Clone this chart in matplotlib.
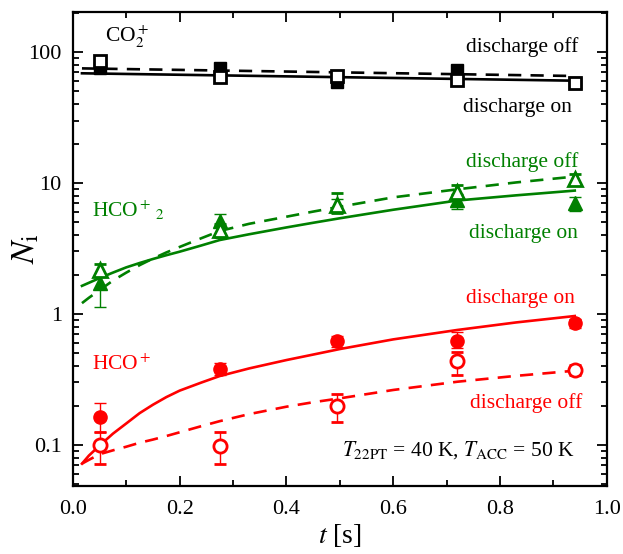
import matplotlib
matplotlib.use("Agg")
import matplotlib.pyplot as plt
import numpy as np
from matplotlib.ticker import LogLocator, NullFormatter, MultipleLocator, FixedLocator, FixedFormatter

plt.rcParams['font.family'] = ['Liberation Serif', 'DejaVu Serif']
plt.rcParams['mathtext.fontset'] = 'stix'

GREEN = '#008000'
RED = '#ff0000'

# measurement times
t = [0.05, 0.275, 0.495, 0.72, 0.94]

# CO2+
co2_on = [76, 75, 59, 72.5, 57.5]
co2_off = [85, 64, 65.5, 61, 58.5]

# HCO2+
hco2_on = [1.72, 5.15, 6.8, 7.4, 7.0]
hco2_on_lo = [1.14, 4.6, 6.0, 6.3, 6.1]
hco2_on_hi = [1.9, 5.8, 7.6, 8.2, 7.8]
hco2_off = [2.17, 4.38, 6.79, 8.58, 10.7]
hco2_off_lo = [1.95, 3.9, 5.9, 7.8, 9.7]
hco2_off_hi = [2.4, 4.9, 8.35, 9.6, 11.8]

# HCO+
hco_on = [0.163, 0.378, 0.622, 0.625, 0.85]
hco_on_lo = [0.125, 0.34, 0.56, 0.55, 0.78]
hco_on_hi = [0.21, 0.42, 0.68, 0.733, 0.92]
hco_off = [0.1, 0.099, 0.199, 0.44, 0.374]
hco_off_lo = [0.0716, 0.0716, 0.151, 0.342, 0.34]
hco_off_hi = [0.126, 0.126, 0.244, 0.515, 0.41]

# fitted curves
fit_t_co2 = [0.017, 0.94]
co2_fit_on = [68.8, 60.4]
co2_fit_off = [75.0, 65.6]

fit_t = [0.017, 0.03, 0.05, 0.075, 0.1, 0.125, 0.15, 0.175, 0.2, 0.24, 0.275, 0.33,
         0.4, 0.45, 0.5, 0.6, 0.72, 0.83, 0.94]
hco2_fit_on = [1.64, 1.73, 1.88, 2.07, 2.27, 2.45, 2.63, 2.81, 2.99, 3.33, 3.67, 4.06,
               4.58, 4.97, 5.38, 6.25, 7.35, 8.05, 8.75]
hco2_fit_off = [1.21, 1.33, 1.52, 1.8, 2.07, 2.36, 2.65, 2.95, 3.25, 3.78, 4.3, 4.88,
                5.53, 6.05, 6.59, 7.77, 8.95, 10.1, 11.2]
hco_fit_on = [0.072, 0.083, 0.099, 0.122, 0.146, 0.175, 0.203, 0.232, 0.26, 0.299, 0.336, 0.384,
              0.445, 0.49, 0.54, 0.64, 0.755, 0.862, 0.965]
hco_fit_off = [0.072, 0.077, 0.085, 0.091, 0.097, 0.104, 0.11, 0.117, 0.125, 0.139, 0.152, 0.172,
               0.196, 0.212, 0.227, 0.263, 0.304, 0.337, 0.369]

fig = plt.figure(figsize=(6.23, 5.54), dpi=100)
ax = fig.add_axes([0.117, 0.1227, 0.857, 0.8556])

lw = 1.9
dash = (0, (5, 3.5))

# CO2+
ax.plot(fit_t_co2, co2_fit_on, color='black', lw=lw)
ax.plot(fit_t_co2, co2_fit_off, color='black', lw=lw, ls=dash)
ax.plot(t, co2_on, ls='none', marker='s', ms=9, color='black')
ax.plot(t, co2_off, ls='none', marker='s', ms=9, mfc='white', mec='black', mew=2)

# HCO2+
ax.plot(fit_t, hco2_fit_on, color=GREEN, lw=lw)
ax.plot(fit_t, hco2_fit_off, color=GREEN, lw=lw, ls=dash)
ax.errorbar(t, hco2_on, yerr=[np.array(hco2_on) - np.array(hco2_on_lo), np.array(hco2_on_hi) - np.array(hco2_on)],
            ls='none', marker='^', ms=10, color=GREEN, ecolor=GREEN, elinewidth=1, capsize=4)
ax.errorbar(t, hco2_off, yerr=[np.array(hco2_off) - np.array(hco2_off_lo), np.array(hco2_off_hi) - np.array(hco2_off)],
            ls='none', marker='^', ms=10, mfc='white', mec=GREEN, mew=2, ecolor=GREEN, elinewidth=1, capsize=4)

# HCO+
ax.plot(fit_t, hco_fit_on, color=RED, lw=lw)
ax.plot(fit_t, hco_fit_off, color=RED, lw=lw, ls=dash)
ax.errorbar(t, hco_on, yerr=[np.array(hco_on) - np.array(hco_on_lo), np.array(hco_on_hi) - np.array(hco_on)],
            ls='none', marker='o', ms=9.5, color=RED, ecolor=RED, elinewidth=1, capsize=4)
ax.errorbar(t, hco_off, yerr=[np.array(hco_off) - np.array(hco_off_lo), np.array(hco_off_hi) - np.array(hco_off)],
            ls='none', marker='o', ms=9.5, mfc='white', mec=RED, mew=2, ecolor=RED, elinewidth=1, capsize=4)

ax.set_yscale('log')
ax.set_xlim(0, 1.0)
ax.set_ylim(0.0486, 202)

ax.xaxis.set_major_locator(MultipleLocator(0.2))
ax.xaxis.set_minor_locator(MultipleLocator(0.1))
ax.set_xticklabels([f'{v:.1f}' for v in ax.get_xticks()])
ax.yaxis.set_major_locator(FixedLocator([0.1, 1, 10, 100]))
ax.yaxis.set_major_formatter(FixedFormatter(['0.1', '1', '10', '100']))
ax.yaxis.set_minor_locator(LogLocator(base=10, subs=np.arange(2, 10)))
ax.yaxis.set_minor_formatter(NullFormatter())

ax.tick_params(which='both', direction='in', top=True, right=True, width=1.3)
ax.tick_params(which='major', length=7, labelsize=16)
ax.tick_params(axis='x', which='major', pad=10)
ax.tick_params(axis='y', which='major', pad=8)
ax.tick_params(which='minor', length=4)
for s in ax.spines.values():
    s.set_linewidth(1.6)

ax.set_xlabel(r'$t$ [s]', fontsize=20, labelpad=2)
ax.set_ylabel(r'$N_{\rm i}$', fontsize=24)
ax.yaxis.set_label_coords(-0.058, 0.5)

fs = 15.5
ax.text(0.06, 130, r'CO$_2^+$', fontsize=fs, color='black', va='center', ha='left')
ax.text(0.946, 109, 'discharge off', fontsize=fs, color='black', va='center', ha='right')
ax.text(0.935, 38, 'discharge on', fontsize=fs, color='black', va='center', ha='right')

ax.text(0.035, 6.2, r'HCO$^+$$_{\,2}$', fontsize=fs, color=GREEN, va='center', ha='left')
ax.text(0.946, 14.5, 'discharge off', fontsize=fs, color=GREEN, va='center', ha='right')
ax.text(0.946, 4.15, 'discharge on', fontsize=fs, color=GREEN, va='center', ha='right')

ax.text(0.035, 0.41, r'HCO$^+$', fontsize=fs, color=RED, va='center', ha='left')
ax.text(0.94, 1.32, 'discharge on', fontsize=fs, color=RED, va='center', ha='right')
ax.text(0.955, 0.209, 'discharge off', fontsize=fs, color=RED, va='center', ha='right')

ax.text(0.94, 0.0916, r'$T_{\rm 22PT}$ = 40 K, $T_{\rm ACC}$ = 50 K', fontsize=fs, color='black',
        va='center', ha='right')

fig.savefig('out.png', dpi=100)
